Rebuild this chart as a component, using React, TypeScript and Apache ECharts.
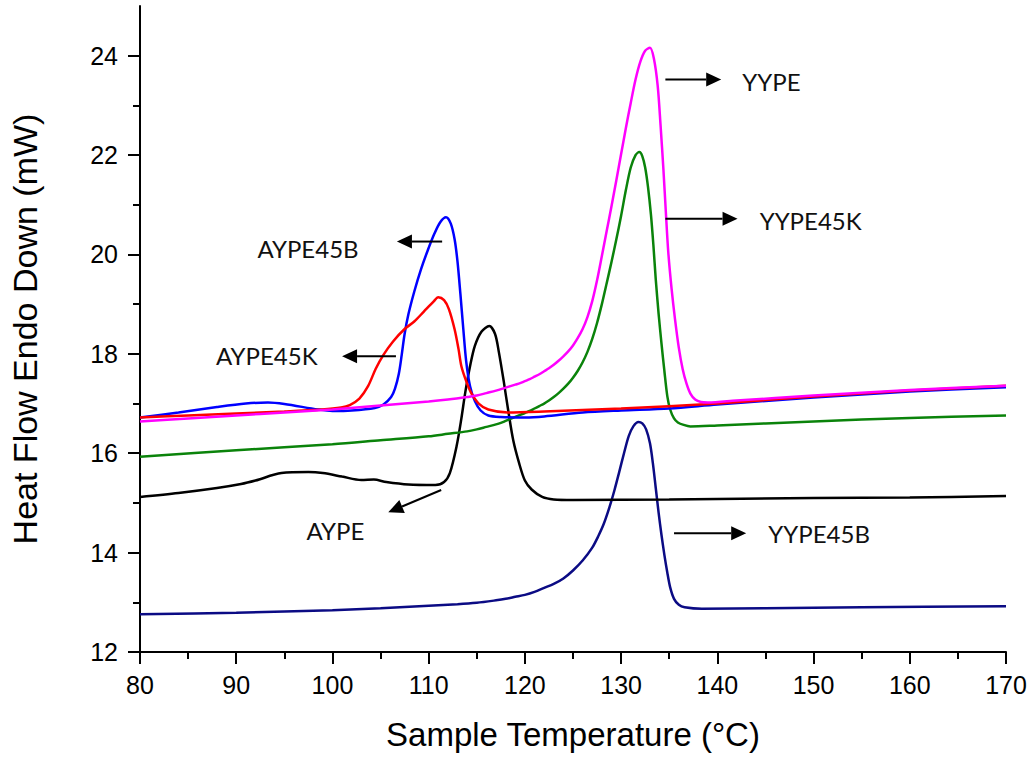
import React, { useEffect, useRef } from "react";
import * as echarts from "echarts";

// DSC heating curves: sample temperature (°C) vs heat flow, endo down (mW)
const yype: [number, number][] = [
  [80, 16.64], [85, 16.7], [90, 16.76], [95, 16.82], [100, 16.88], [105, 16.96],
  [110, 17.04], [112, 17.08], [114, 17.13], [115, 17.16], [116, 17.21], [117, 17.26],
  [118, 17.32], [118.5, 17.35], [119, 17.38], [119.5, 17.41], [120, 17.45], [120.5, 17.49],
  [121, 17.54], [121.5, 17.59], [122, 17.65], [122.5, 17.71], [123, 17.78], [123.5, 17.86],
  [124, 17.95], [124.5, 18.05], [125, 18.17], [125.5, 18.32], [126, 18.5], [126.5, 18.74],
  [127, 19.06], [127.5, 19.48], [128, 19.97], [128.5, 20.47], [129, 20.97], [129.5, 21.49],
  [130, 22.02], [130.5, 22.55],
  [131, 23.05], [131.5, 23.52], [132, 23.88], [132.5, 24.1], [133, 24.16], [133.4, 23.95],
  [133.8, 23.4], [134.1, 22.6], [134.4, 21.7], [134.65, 20.85], [134.9, 20.05],
  [135.25, 19.3], [135.6, 18.7], [136, 18.12], [136.4, 17.69], [136.8, 17.4],
  [137.2, 17.2], [137.7, 17.08], [138.3, 17.03], [139, 17.02], [142, 17.06], [150, 17.16],
  [160, 17.27], [170, 17.36],
];

const yype45k: [number, number][] = [
  [80, 15.93], [90, 16.06], [100, 16.18], [105, 16.26], [110, 16.34], [112, 16.39],
  [114, 16.44], [115, 16.48], [116, 16.53], [117, 16.58], [117.5, 16.61], [118, 16.65],
  [118.5, 16.69], [119, 16.73], [119.5, 16.77], [120, 16.81], [120.5, 16.85], [121, 16.9],
  [121.5, 16.95], [122, 17.0], [122.5, 17.06], [123, 17.13], [123.5, 17.21], [124, 17.3],
  [124.5, 17.4], [125, 17.52], [125.5, 17.66], [126, 17.83], [126.5, 18.04], [127, 18.3],
  [127.5, 18.62], [128, 19.0],
  [128.5, 19.42], [129, 19.85], [129.5, 20.3], [130, 20.78], [130.5, 21.3], [131, 21.75],
  [131.5, 22.0], [131.9, 22.06], [132.2, 21.98], [132.5, 21.75], [132.8, 21.35],
  [133.1, 20.8], [133.35, 20.2], [133.6, 19.5], [133.9, 18.8], [134.2, 18.2],
  [134.5, 17.65], [134.8, 17.15], [135.1, 16.88], [135.5, 16.7], [135.9, 16.62],
  [136.5, 16.57], [137.2, 16.54], [140, 16.56], [150, 16.64], [160, 16.71], [170, 16.76],
];

const aype: [number, number][] = [
  [80, 15.12], [84, 15.2], [88, 15.3], [90.5, 15.38], [92, 15.45], [94.7, 15.6],
  [97.5, 15.62], [99, 15.6], [101, 15.53], [103, 15.46], [104.3, 15.47], [105.6, 15.42],
  [107.9, 15.37], [110.7, 15.36], [111.6, 15.42], [112.2, 15.6], [112.9, 16.14],
  [113.4, 16.7], [113.8, 17.22], [114.3, 17.75], [114.8, 18.16], [115.5, 18.45],
  [116.3, 18.56], [116.9, 18.4], [117.3, 18.03], [117.8, 17.45], [118.3, 16.82],
  [118.8, 16.25], [119.4, 15.8], [120, 15.45], [120.7, 15.27], [121.8, 15.12],
  [123, 15.07], [125, 15.06], [135, 15.07], [150, 15.1], [160, 15.11], [170, 15.14],
];

const yype45b: [number, number][] = [
  [80, 12.76], [90, 12.79], [100, 12.84], [105, 12.88], [110, 12.93], [113, 12.96],
  [115, 12.99], [117, 13.04], [118, 13.07], [119, 13.11], [120, 13.15], [121, 13.21],
  [122, 13.29], [123, 13.37], [124, 13.48], [125, 13.64], [126, 13.84], [127, 14.1],
  [127.6, 14.32], [128.2, 14.58], [128.8, 14.92], [129.3, 15.25], [129.8, 15.62],
  [130.3, 16.0], [130.8, 16.35], [131.3, 16.55], [131.8, 16.63], [132.2, 16.6],
  [132.6, 16.48], [133, 16.2], [133.3, 15.8], [133.6, 15.3], [133.9, 14.8],
  [134.2, 14.35], [134.5, 13.95], [134.8, 13.6], [135.1, 13.3], [135.5, 13.07],
  [136, 12.95], [136.6, 12.9], [138.4, 12.87], [145, 12.88], [155, 12.9], [170, 12.92],
];

const aype45b: [number, number][] = [
  [80, 16.72], [84, 16.82], [88, 16.93], [91, 17.0], [93.3, 17.02], [95, 16.99],
  [98.5, 16.88], [100, 16.85], [102, 16.86], [104.4, 16.91], [105.3, 16.98], [106.1, 17.13],
  [106.5, 17.3], [106.9, 17.6], [107.2, 17.98], [107.5, 18.4], [107.9, 18.8],
  [108.5, 19.25], [109.2, 19.7], [109.9, 20.08], [110.6, 20.42], [111.2, 20.65],
  [111.8, 20.75], [112.3, 20.62], [112.7, 20.3], [113, 19.85], [113.3, 19.2],
  [113.6, 18.5], [113.9, 17.85], [114.3, 17.35], [114.8, 17.05], [115.4, 16.86],
  [116.2, 16.76], [117.5, 16.73], [120, 16.72], [122, 16.74], [126, 16.82], [130, 16.86],
  [135, 16.9], [140, 16.98], [150, 17.12], [160, 17.24], [170, 17.33],
];

const aype45k: [number, number][] = [
  [80, 16.72], [85, 16.76], [90, 16.8], [95, 16.84], [98.9, 16.88], [100.9, 16.92],
  [101.8, 16.97], [102.8, 17.1], [103.7, 17.35], [104.5, 17.7], [105.3, 17.98],
  [106.3, 18.25], [107.5, 18.5], [108.5, 18.65], [109.5, 18.85], [110.5, 19.05],
  [111, 19.14], [111.6, 19.08], [112.1, 18.9], [112.7, 18.49], [113.1, 18.1],
  [113.4, 17.75], [113.9, 17.45], [114.4, 17.22], [115.2, 17.0], [116.2, 16.88],
  [118.2, 16.82], [122, 16.84], [130, 16.9], [140, 17.0], [150, 17.14], [160, 17.26],
  [170, 17.36],
];

const xTicks = [80, 90, 100, 110, 120, 130, 140, 150, 160, 170];
const yMajorTicks = [12, 14, 16, 18, 20, 22, 24];
const yMinorTicks = [13, 15, 17, 19, 21, 23];

// curve labels with their pointer arrows (tail -> tip), in data coordinates
const annotations = [
  { text: "YYPE", at: [142.6, 23.48], tail: [134.6, 23.52], tip: [140.4, 23.52] },
  { text: "YYPE45K", at: [144.4, 20.68], tail: [134.6, 20.72], tip: [142.1, 20.72] },
  { text: "AYPE45B", at: [92.2, 20.12], tail: [111.4, 20.26], tip: [106.7, 20.26] },
  { text: "AYPE45K", at: [87.9, 17.97], tail: [106.6, 17.95], tip: [101.0, 17.95] },
  { text: "AYPE", at: [97.3, 14.45], tail: [111.3, 15.26], tip: [105.8, 14.81] },
  { text: "YYPE45B", at: [145.3, 14.39], tail: [135.5, 14.39], tip: [143.0, 14.39] },
];

const AXIS_FONT = "'Liberation Sans', Arial, sans-serif";
const NOTE_FONT = "Lato, 'Noto Sans', sans-serif";

export default function App() {
  const ref = useRef<HTMLDivElement>(null);

  useEffect(() => {
    if (!ref.current) return;
    const chart = echarts.init(ref.current, null, { renderer: "svg" });

    const line = (name: string, data: [number, number][], color: string) => ({
      name,
      type: "line",
      data,
      showSymbol: false,
      smooth: 0.3,
      clip: false,
      lineStyle: { color, width: 2.5 },
      itemStyle: { color },
      z: 3,
    });

    chart.setOption({
      animation: false,
      backgroundColor: "#ffffff",
      grid: { left: 138, right: 30, top: 6, bottom: 110 },
      xAxis: {
        type: "value",
        min: xTicks[0],
        max: xTicks[xTicks.length - 1],
        interval: 10,
        name: "Sample Temperature (°C)",
        nameLocation: "middle",
        nameGap: 66,
        nameTextStyle: { fontSize: 33, fontFamily: AXIS_FONT, color: "#000" },
        axisLine: { show: true, onZero: false, lineStyle: { color: "#000", width: 2 } },
        axisTick: { show: true, inside: false, length: 12, lineStyle: { color: "#000", width: 2 } },
        minorTick: { show: true, splitNumber: 2, length: 7, lineStyle: { color: "#000", width: 2 } },
        axisLabel: { fontSize: 25, fontFamily: AXIS_FONT, color: "#000", margin: 20 },
        splitLine: { show: false },
      },
      yAxis: [
        {
          type: "value",
          min: 12,
          max: 25,
          name: "Heat Flow Endo Down (mW)",
          nameLocation: "middle",
          nameGap: 98,
          nameTextStyle: { fontSize: 34, fontFamily: AXIS_FONT, color: "#000" },
          axisLine: { show: true, onZero: false, lineStyle: { color: "#000", width: 2 } },
          axisTick: {
            show: true,
            length: 12,
            customValues: yMajorTicks,
            lineStyle: { color: "#000", width: 2 },
          },
          axisLabel: {
            fontSize: 25,
            fontFamily: AXIS_FONT,
            color: "#000",
            margin: 22,
            customValues: yMajorTicks,
          },
          splitLine: { show: false },
        },
        {
          type: "value",
          min: 12,
          max: 25,
          position: "left",
          axisLine: { show: false },
          axisTick: {
            show: true,
            length: 7,
            customValues: yMinorTicks,
            lineStyle: { color: "#000", width: 2 },
          },
          axisLabel: { show: false },
          splitLine: { show: false },
        },
      ],
      series: [
        line("YYPE45B", yype45b, "#0b0b84"),
        line("AYPE", aype, "#000000"),
        line("YYPE45K", yype45k, "#0a830a"),
        line("AYPE45B", aype45b, "#0000ff"),
        line("AYPE45K", aype45k, "#ff0000"),
        line("YYPE", yype, "#ff00ff"),
      ],
    });

    const toPx = (p: number[]) => chart.convertToPixel({ seriesIndex: 0 }, p) as number[];
    const graphics: any[] = [];
    annotations.forEach((a) => {
      const [tx, ty] = toPx(a.tail);
      const [px, py] = toPx(a.tip);
      const dx = px - tx;
      const dy = py - ty;
      const len = Math.hypot(dx, dy);
      const ux = dx / len;
      const uy = dy / len;
      const head = 15;
      const half = 7;
      const bx = px - ux * head;
      const by = py - uy * head;
      graphics.push({
        type: "line",
        shape: { x1: tx, y1: ty, x2: bx, y2: by },
        style: { stroke: "#000", lineWidth: 2 },
        z: 10,
      });
      graphics.push({
        type: "polygon",
        shape: {
          points: [
            [px, py],
            [bx - uy * half, by + ux * half],
            [bx + uy * half, by - ux * half],
          ],
        },
        style: { fill: "#000" },
        z: 10,
      });
      const [lx, ly] = toPx(a.at);
      graphics.push({
        type: "text",
        x: lx,
        y: ly,
        style: {
          text: a.text,
          fill: "#111",
          fontSize: 24,
          fontFamily: NOTE_FONT,
          align: "left",
          verticalAlign: "middle",
        },
        z: 10,
      });
    });
    chart.setOption({ graphic: graphics });

    return () => chart.dispose();
  }, []);

  return (
    <div
      ref={ref}
      style={{ position: "absolute", left: 0, top: 0, width: 1036, height: 762 }}
    />
  );
}
